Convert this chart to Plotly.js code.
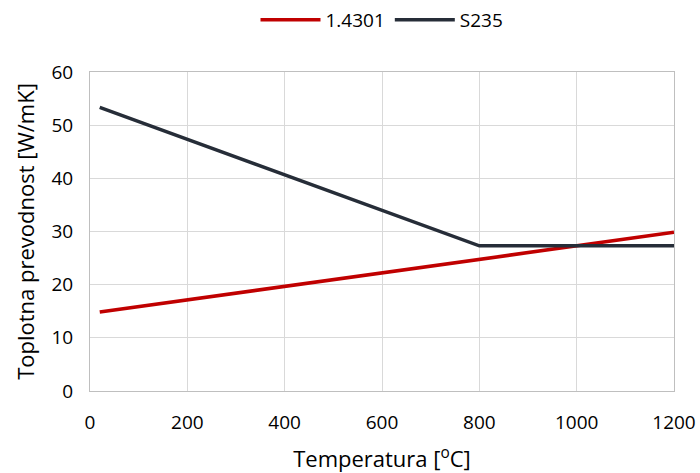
<!DOCTYPE html>
<html><head><meta charset="utf-8">
<script src="https://cdn.plot.ly/plotly-3.0.1.min.js"></script>
<style>body{margin:0;background:#fff}</style>
</head><body><div id="chart" style="width:700px;height:473px"></div>
<script>
const temp_14301 = [20, 1200];
const lambda_14301 = [14.85, 29.84];
const temp_S235 = [20, 800, 1200];
const lambda_S235 = [53.33, 27.3, 27.3];
const xTicks = [0, 200, 400, 600, 800, 1000, 1200];
const yTicks = [0, 10, 20, 30, 40, 50, 60];

const font = '"Open Sans", Lato, sans-serif';
const traces = [
  {x: temp_14301, y: lambda_14301, name: '1.4301', mode: 'lines', line: {color: '#c00000', width: 3.5}},
  {x: temp_S235, y: lambda_S235, name: 'S235', mode: 'lines', line: {color: '#262d38', width: 3.5}}
];
const layout = {
  width: 700, height: 473,
  margin: {l: 90, r: 26, t: 72, b: 82},
  paper_bgcolor: '#fff', plot_bgcolor: '#fff',
  font: {family: font, size: 19, color: '#000'},
  showlegend: true,
  legend: {orientation: 'h', x: 0.5, xanchor: 'center', yref: 'container', y: 0.958, yanchor: 'middle',
           font: {size: 19}, itemwidth: 60, tracegroupgap: 0},
  xaxis: {
    range: [0, 1200], tickvals: xTicks, ticktext: xTicks.map(String),
    showgrid: true, gridcolor: '#d9d9d9', zeroline: false,
    showline: true, linecolor: '#bfbfbf', mirror: true, ticks: '', ticklabelstandoff: 14,
    automargin: false,
    title: {text: 'Temperatura [<sup>o</sup>C]', font: {size: 22}, standoff: 20}
  },
  yaxis: {
    range: [0, 60], tickvals: yTicks, ticktext: yTicks.map(String),
    showgrid: true, gridcolor: '#d9d9d9', zeroline: false,
    showline: true, linecolor: '#bfbfbf', mirror: true, ticks: '', ticklabelstandoff: 12,
    automargin: false,
    title: {text: 'Toplotna prevodnost [W/mK]', font: {size: 22}, standoff: 10}
  }
};
Plotly.newPlot('chart', traces, layout, {displayModeBar: false});
</script></body></html>
